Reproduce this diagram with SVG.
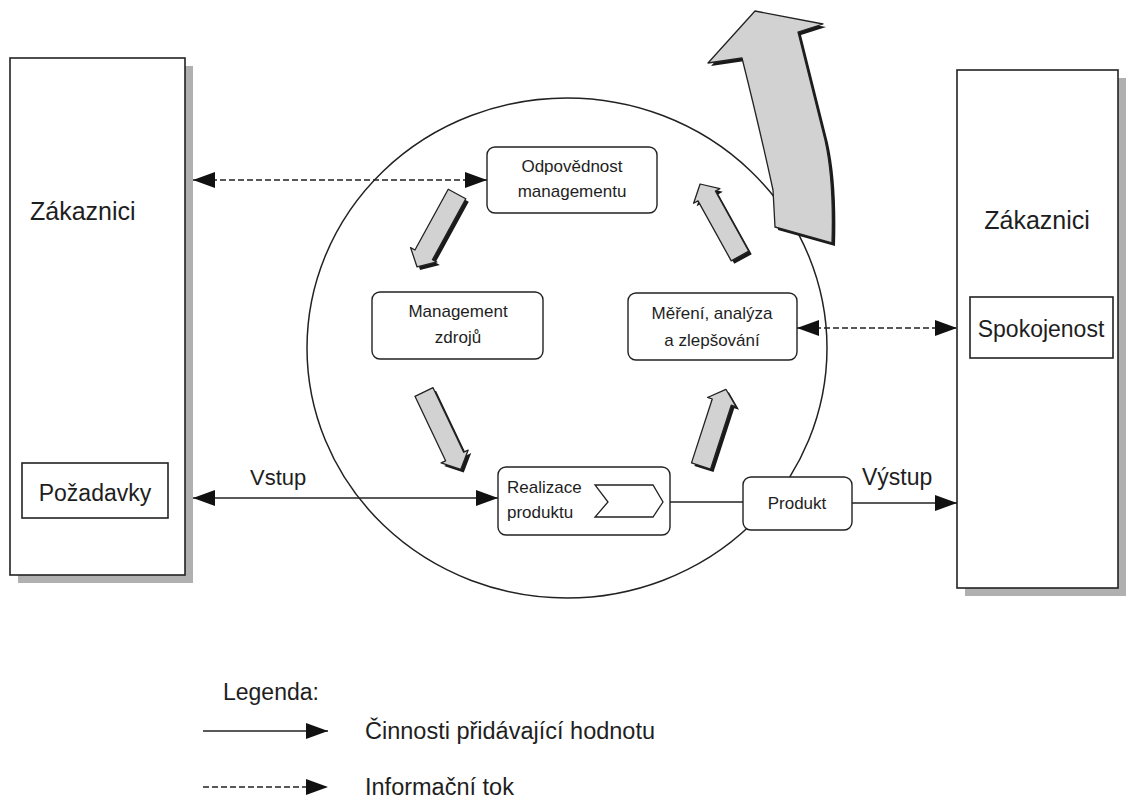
<svg xmlns="http://www.w3.org/2000/svg" xmlns:xlink="http://www.w3.org/1999/xlink" width="1129" height="800" viewBox="0 0 1129 800">
<style>
text{font-family:"Liberation Sans",Arial,sans-serif;fill:#1e1e1e}
.big{font-size:25px}
.mid{font-size:23px}
.sm{font-size:17px;text-anchor:middle}
.box{fill:#fff;stroke:#222;stroke-width:1.6}
.rb{fill:#fff;stroke:#222;stroke-width:1.4}
.shadow{fill:#b0b0b0}
.ln{stroke:#222;stroke-width:1.4;fill:none}
.dash{stroke:#222;stroke-width:1.4;fill:none;stroke-dasharray:6 3}
.ga{fill:#d2d2d2;stroke:#222;stroke-width:1.3;stroke-linejoin:round}
.gs{fill:#1a1a1a}
</style>
<defs>
<marker id="ah" viewBox="0 0 22 16" refX="22" refY="8" markerWidth="22" markerHeight="16" markerUnits="userSpaceOnUse" orient="auto-start-reverse"><path d="M0,0 L22,8 L0,16 z" fill="#111"/></marker>
<path id="sa" d="M0,-10 L70,-10 L70,-15 L84,0 L70,15 L70,10 L0,10 Z"/>
</defs>
<rect width="1129" height="800" fill="#fff"/>

<g id="cycle">
<ellipse cx="567" cy="348" rx="260" ry="250" fill="none" stroke="#222" stroke-width="1.5"/>
</g>

<g id="customers-left">
<rect class="shadow" x="18" y="66" width="175" height="517"/>
<rect class="box" x="10" y="58" width="175" height="517"/>
<text class="big" x="30" y="220" font-size="27">Zákaznici</text>
</g>
<g id="pozadavky">
<rect class="box" x="22" y="463" width="146" height="55"/>
<text class="mid" x="95" y="501" text-anchor="middle" font-size="24">Požadavky</text>
</g>

<g id="customers-right">
<rect class="shadow" x="965" y="78" width="161" height="518"/>
<rect class="box" x="957" y="70" width="161" height="518"/>
<text class="big" x="1037" y="229" text-anchor="middle">Zákaznici</text>
</g>
<g id="spokojenost">
<rect class="box" x="970" y="297" width="143" height="61"/>
<text class="mid" x="1041" y="337" text-anchor="middle" font-size="24">Spokojenost</text>
</g>

<g id="big-arrow">
<path class="gs" transform="translate(3,3)" d="M755,11 L823,24 L798,32 L825,140 Q834,180 832,243 L775,227 L773,190 Q760,130 742,58 L708,63 Z"/>
<path class="ga" d="M755,11 L823,24 L798,32 L825,140 Q834,180 832,243 L775,227 L773,190 Q760,130 742,58 L708,63 Z"/>
</g>

<g id="cycle-arrows">
<use xlink:href="#sa" class="gs" transform="translate(460,197) rotate(118.7) scale(0.99,1)"/>
<use xlink:href="#sa" class="ga" transform="translate(457,194) rotate(118.7) scale(0.99,1)"/>
<use xlink:href="#sa" class="gs" transform="translate(427,395) rotate(64.6) scale(1.02,1)"/>
<use xlink:href="#sa" class="ga" transform="translate(424,392) rotate(64.6) scale(1.02,1)"/>
<use xlink:href="#sa" class="gs" transform="translate(704,469) rotate(-72) scale(0.96,1)"/>
<use xlink:href="#sa" class="ga" transform="translate(701,466) rotate(-72) scale(0.96,1)"/>
<use xlink:href="#sa" class="gs" transform="translate(743,259) rotate(-119) scale(0.98,1)"/>
<use xlink:href="#sa" class="ga" transform="translate(740,256) rotate(-119) scale(0.98,1)"/>
</g>

<g id="connectors">
<line class="dash" x1="193" y1="180" x2="487" y2="180" marker-start="url(#ah)" marker-end="url(#ah)"/>
<line class="ln" x1="193" y1="498" x2="498" y2="498" marker-start="url(#ah)" marker-end="url(#ah)"/>
<line class="dash" x1="797" y1="328" x2="957" y2="328" marker-start="url(#ah)" marker-end="url(#ah)"/>
<line class="ln" x1="670" y1="502" x2="743" y2="502"/>
<line class="ln" x1="852" y1="503" x2="957" y2="503" marker-end="url(#ah)"/>
<text x="250" y="485" font-size="22">Vstup</text>
<text x="862" y="485" font-size="23">Výstup</text>
</g>

<g id="odpovednost">
<rect class="rb" x="487" y="147" width="170" height="66" rx="8"/>
<text class="sm" x="572" y="172">Odpovědnost</text>
<text class="sm" x="572" y="197">managementu</text>
</g>
<g id="management-zdroju">
<rect class="rb" x="372" y="292" width="171" height="67" rx="8"/>
<text class="sm" x="458" y="317">Management</text>
<text class="sm" x="458" y="343">zdrojů</text>
</g>
<g id="mereni">
<rect class="rb" x="628" y="293" width="169" height="67" rx="8"/>
<text class="sm" x="712" y="319">Měření, analýza</text>
<text class="sm" x="712" y="346">a zlepšování</text>
</g>
<g id="realizace">
<rect class="rb" x="498" y="467" width="172" height="68" rx="8"/>
<text x="507" y="493" font-size="17">Realizace</text>
<text x="507" y="518" font-size="17">produktu</text>
<path d="M595,485 L653,485 L663,502 L653,517 L595,517 L608,502 Z" fill="#fff" stroke="#222" stroke-width="1.3"/>
</g>
<g id="produkt">
<rect class="rb" x="743" y="477" width="109" height="53" rx="8"/>
<text class="sm" x="797" y="509">Produkt</text>
</g>

<g id="legend">
<text x="223" y="700" font-size="23">Legenda:</text>
<line class="ln" x1="203" y1="731" x2="328" y2="731" marker-end="url(#ah)"/>
<text x="365" y="739" font-size="23.5">Činnosti přidávající hodnotu</text>
<line class="dash" x1="203" y1="787" x2="328" y2="787" marker-end="url(#ah)"/>
<text x="365" y="795" font-size="23.5">Informační tok</text>
</g>
</svg>
